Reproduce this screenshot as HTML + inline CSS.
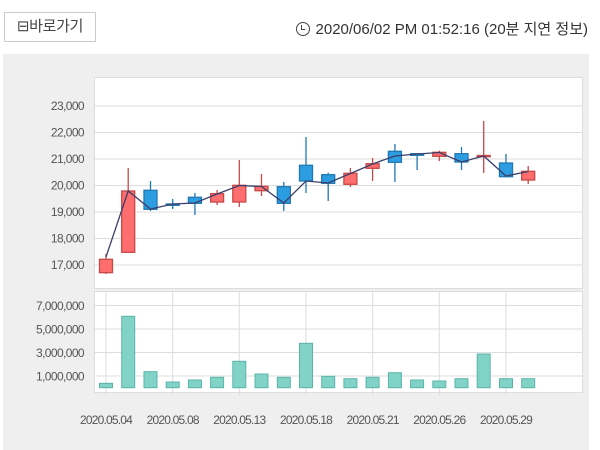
<!DOCTYPE html>
<html><head><meta charset="utf-8"><style>
body{margin:0;width:600px;height:450px;background:#fff;font-family:"Liberation Sans","Noto Sans CJK KR",sans-serif;overflow:hidden;position:relative}
.btn{position:absolute;left:4px;top:12px;width:92px;height:30px;border:1px solid #ccc;box-sizing:border-box;font-size:15px;color:#444;line-height:28px;text-align:center;letter-spacing:-0.3px}
.time{position:absolute;right:12px;top:18px;font-size:15px;color:#333;letter-spacing:0px;white-space:nowrap}
.panel{position:absolute;left:3px;top:54px;width:586px;height:396px;background:#efefef}
</style></head><body>
<div class="btn">⊟바로가기</div>
<div class="time"><span style="display:inline-block;width:14px;height:14px;border:1.5px solid #444;border-radius:50%;vertical-align:-2px;margin-right:6px;position:relative;box-sizing:border-box"><span style="position:absolute;left:4px;top:2px;width:3px;height:4px;border-left:1.5px solid #444;border-bottom:1.5px solid #444"></span></span>2020/06/02 PM 01:52:16 (20분 지연 정보)</div>
<div class="panel"></div>
<svg width="600" height="450" style="position:absolute;left:0;top:0" font-family="Liberation Sans, sans-serif" font-size="12" fill="#555">
<rect x="94.5" y="77.5" width="488" height="211" fill="#fff" stroke="#ddd"/>
<g stroke="#ddd">
<line x1="95" x2="582" y1="106" y2="106"/><line x1="95" x2="582" y1="132.5" y2="132.5"/><line x1="95" x2="582" y1="159" y2="159"/><line x1="95" x2="582" y1="185.5" y2="185.5"/><line x1="95" x2="582" y1="212" y2="212"/><line x1="95" x2="582" y1="238.5" y2="238.5"/><line x1="95" x2="582" y1="265" y2="265"/>
</g>
<g text-anchor="end" letter-spacing="-0.6">
<text x="84" y="110">23,000</text><text x="84" y="136.5">22,000</text><text x="84" y="163">21,000</text><text x="84" y="189.5">20,000</text><text x="84" y="216">19,000</text><text x="84" y="242.5">18,000</text><text x="84" y="269">17,000</text>
<text x="84" y="310">7,000,000</text><text x="84" y="333.5">5,000,000</text><text x="84" y="357">3,000,000</text><text x="84" y="380.5">1,000,000</text>
</g>
<rect x="94.5" y="291.5" width="488" height="101" fill="#fff" stroke="#ddd"/>
<g stroke="#ddd">
<line x1="95" x2="582" y1="305.5" y2="305.5"/><line x1="95" x2="582" y1="329" y2="329"/><line x1="95" x2="582" y1="352.5" y2="352.5"/><line x1="95" x2="582" y1="376" y2="376"/>
<line x1="106" x2="106" y1="292" y2="396"/><line x1="172.7" x2="172.7" y1="292" y2="396"/><line x1="239.3" x2="239.3" y1="292" y2="396"/><line x1="306" x2="306" y1="292" y2="396"/><line x1="372.7" x2="372.7" y1="292" y2="396"/><line x1="439.3" x2="439.3" y1="292" y2="396"/><line x1="506" x2="506" y1="292" y2="396"/>
</g>
<g text-anchor="middle" letter-spacing="-0.8" fill="#555">
<text x="106" y="424">2020.05.04</text><text x="172.7" y="424">2020.05.08</text><text x="239.3" y="424">2020.05.13</text><text x="306" y="424">2020.05.18</text><text x="372.7" y="424">2020.05.21</text><text x="439.3" y="424">2020.05.26</text><text x="506" y="424">2020.05.29</text>
</g>
<g fill="#80d3c6" stroke="#5ab5a8">
<rect x="99.5" y="383.3" width="13" height="4.4"/><rect x="121.7" y="316.3" width="13" height="71.4"/><rect x="144" y="371.7" width="13" height="16"/><rect x="166.2" y="382" width="13" height="5.7"/><rect x="188.4" y="380" width="13" height="7.7"/><rect x="210.6" y="377.3" width="13" height="10.4"/><rect x="232.8" y="361.3" width="13" height="26.4"/><rect x="255" y="374" width="13" height="13.7"/><rect x="277.3" y="377.3" width="13" height="10.4"/><rect x="299.5" y="343.3" width="13" height="44.4"/><rect x="321.7" y="376.3" width="13" height="11.4"/><rect x="343.9" y="378.7" width="13" height="9"/><rect x="366.1" y="377.3" width="13" height="10.4"/><rect x="388.4" y="372.7" width="13" height="15"/><rect x="410.6" y="380" width="13" height="7.7"/><rect x="432.8" y="381" width="13" height="6.7"/><rect x="455" y="378.7" width="13" height="9"/><rect x="477.2" y="354" width="13" height="33.7"/><rect x="499.5" y="378.7" width="13" height="9"/><rect x="521.7" y="378.7" width="13" height="9"/>
</g>
<g stroke-width="1.3">
<g stroke="#c84848" fill="#ff6e6e">
<line x1="106" x2="106" y1="254" y2="274"/><rect x="99.5" y="259.3" width="13" height="13.4"/>
<line x1="128.2" x2="128.2" y1="168" y2="253"/><rect x="121.7" y="191" width="13" height="61.3"/>
<line x1="217.1" x2="217.1" y1="190" y2="205"/><rect x="210.6" y="193.7" width="13" height="8.3"/>
<line x1="239.3" x2="239.3" y1="160" y2="207"/><rect x="232.8" y="185.3" width="13" height="16.7"/>
<line x1="261.5" x2="261.5" y1="174" y2="196"/><rect x="255" y="186.3" width="13" height="4.4"/>
<line x1="350.4" x2="350.4" y1="168" y2="187"/><rect x="343.9" y="173.3" width="13" height="11"/>
<line x1="372.6" x2="372.6" y1="158" y2="181"/><rect x="366.1" y="163.7" width="13" height="4.6"/>
<line x1="439.3" x2="439.3" y1="150.7" y2="161"/><rect x="432.8" y="152.3" width="13" height="4"/>
<line x1="483.7" x2="483.7" y1="121" y2="173"/><rect x="477.2" y="155.5" width="13" height="1.2"/>
<line x1="528.2" x2="528.2" y1="166" y2="184"/><rect x="521.7" y="171.3" width="13" height="8.7"/>
</g>
<g stroke="#1f78b4" fill="#2b9de0">
<line x1="150.5" x2="150.5" y1="181" y2="211"/><rect x="144" y="190.3" width="13" height="19"/>
<line x1="172.7" x2="172.7" y1="199" y2="209"/><rect x="166.2" y="204" width="13" height="1.3"/>
<line x1="194.9" x2="194.9" y1="193" y2="215"/><rect x="188.4" y="197.3" width="13" height="6"/>
<line x1="283.8" x2="283.8" y1="182" y2="211"/><rect x="277.3" y="186.7" width="13" height="16.6"/>
<line x1="306" x2="306" y1="137" y2="193"/><rect x="299.5" y="165.3" width="13" height="15.7"/>
<line x1="328.2" x2="328.2" y1="172.7" y2="201"/><rect x="321.7" y="174.7" width="13" height="8.6"/>
<line x1="394.9" x2="394.9" y1="144" y2="182"/><rect x="388.4" y="151.3" width="13" height="11"/>
<line x1="417.1" x2="417.1" y1="153.7" y2="170"/><rect x="410.6" y="153.7" width="13" height="1.6"/>
<line x1="461.5" x2="461.5" y1="147" y2="170"/><rect x="455" y="153.7" width="13" height="8.3"/>
<line x1="506" x2="506" y1="154" y2="177"/><rect x="499.5" y="163" width="13" height="13.7"/>
</g>
</g>
<polyline fill="none" stroke="#3c3f6a" stroke-width="1.3" points="106,257 128.2,191 150.5,209 172.7,204 194.9,203 217.1,194 239.3,185.5 261.5,186.5 283.8,203 306,181 328.2,183 350.4,173.5 372.6,164 394.9,156 417.1,154 439.3,152.5 461.5,162 483.7,156 506,176 528.2,171.5"/>
</svg>
</body></html>
